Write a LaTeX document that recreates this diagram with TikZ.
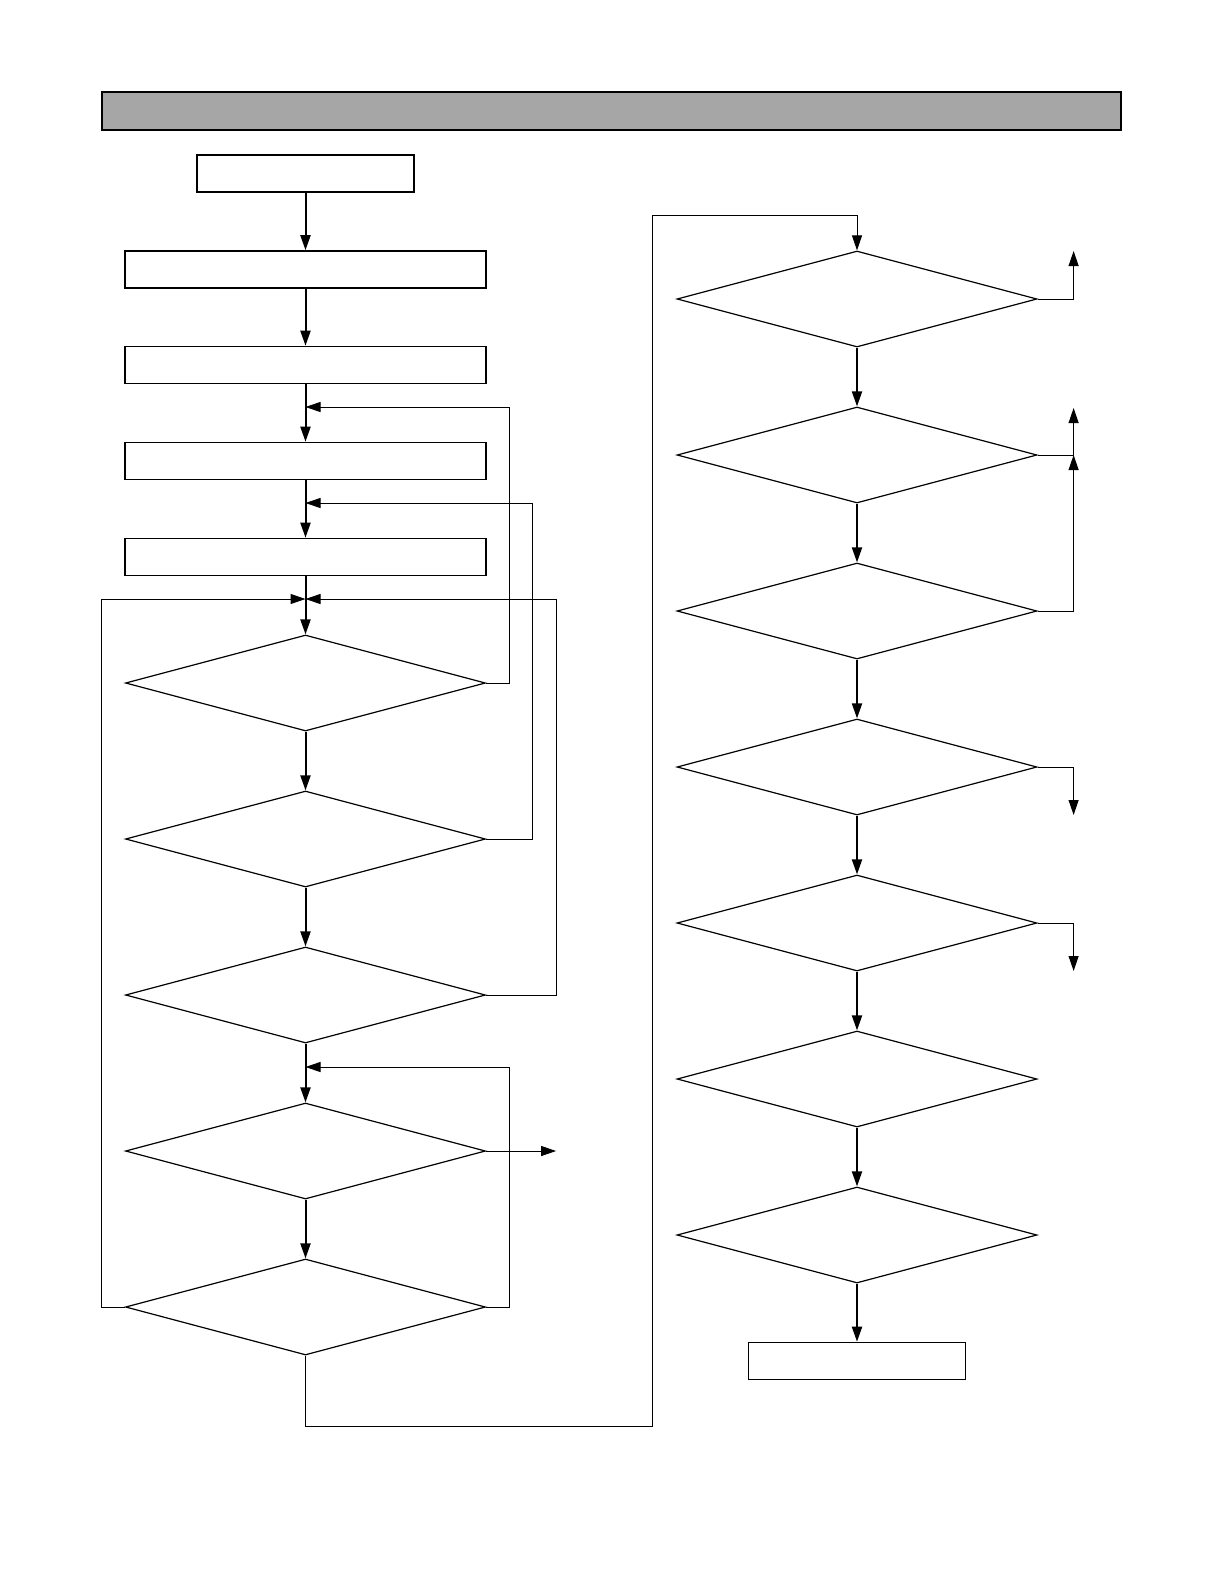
\documentclass[tikz,border=0pt]{standalone}
\usetikzlibrary{shapes.geometric,arrows.meta}

\tikzset{
  titlebar/.style={draw, line width=1pt, fill=black!35, minimum width=509.5pt, minimum height=19pt, inner sep=0pt},
  stepbox/.style={draw, line width=0.8pt, minimum width=180.5pt, minimum height=18.5pt, inner sep=0pt},
  shortbox/.style={stepbox, minimum width=108.5pt},
  decision/.style={draw, diamond, line width=0.6pt, minimum width=180pt, minimum height=48pt, inner sep=0pt},
  flow/.style={line width=1pt, -{Triangle[length=7.5pt,width=5pt]}},
  back/.style={line width=0.5pt, -{Triangle[length=7.5pt,width=5pt]}},
}

\begin{document}
\begin{tikzpicture}[x=0.5pt,y=-0.5pt,line join=miter]
    \useasboundingbox (0,0) rectangle (1224,1584);

    % titulní pruh
    \node[titlebar] (title) at (611.5,111) {};

    % levý sloupec: bloky
    \node[shortbox] (start) at (305.5,173.5) {};
    \node[stepbox] (s2) at (305.5,269.5) {};
    \node[stepbox] (s3) at (305.5,365) {};
    \node[stepbox] (s4) at (305.5,461) {};
    \node[stepbox] (s5) at (305.5,557) {};

    % levý sloupec: rozhodování
    \node[decision] (d1) at (305.5,683) {};
    \node[decision] (d2) at (305.5,839) {};
    \node[decision] (d3) at (305.5,995) {};
    \node[decision] (d4) at (305.5,1151) {};
    \node[decision] (d5) at (305.5,1307) {};

    % body, kde se zpětné větve napojují
    \coordinate (m1) at (305.5,407);
    \coordinate (m2) at (305.5,503);
    \coordinate (m3) at (305.5,599);
    \coordinate (m4) at (305.5,1067);

    % pravý sloupec
    \node[decision] (r1) at (857,299) {};
    \node[decision] (r2) at (857,455) {};
    \node[decision] (r3) at (857,611) {};
    \node[decision] (r4) at (857,767) {};
    \node[decision] (r5) at (857,923) {};
    \node[decision] (r6) at (857,1079) {};
    \node[decision] (r7) at (857,1235) {};
    \node[shortbox] (stop) at (857,1361) {};

    % hlavní tok vlevo
    \draw[flow] (start) -- (s2);
    \draw[flow] (s2) -- (s3);
    \draw[flow] (s3) -- (s4);
    \draw[flow] (s4) -- (s5);
    \draw[flow] (s5) -- (d1);
    \draw[flow] (d1) -- (d2);
    \draw[flow] (d2) -- (d3);
    \draw[flow] (d3) -- (d4);
    \draw[flow] (d4) -- (d5);

    % zpětné větve
    \draw[back] (d1.east) -- ++(23,0) |- (m1);
    \draw[back] (d2.east) -- ++(46,0) |- (m2);
    \draw[back] (d3.east) -- ++(70,0) |- (m3);
    \draw[back] (d5.west) -- ++(-23,0) |- (m3);
    \draw[back] (d5.east) -- ++(23,0) |- (m4);
    \draw[back] (d4.east) -- ++(70,0);

    % přechod do pravého sloupce
    \coordinate (jump) at (652,215);
    \draw[back] (d5.south) -- ++(0,71) -| (jump) -| (r1.north);

    % hlavní tok vpravo
    \draw[flow] (r1) -- (r2);
    \draw[flow] (r2) -- (r3);
    \draw[flow] (r3) -- (r4);
    \draw[flow] (r4) -- (r5);
    \draw[flow] (r5) -- (r6);
    \draw[flow] (r6) -- (r7);
    \draw[flow] (r7) -- (stop);

    % výstupy vpravo
    \draw[back] (r1.east) -- ++(36,0) -- ++(0,-48);
    \draw[back] (r2.east) -- ++(36,0) coordinate (r2x) -- ++(0,-47);
    \draw[back] (r3.east) -- ++(36,0) coordinate (r3x) -- (r2x);
    \draw[back] (r4.east) -- ++(36,0) -- ++(0,48);
    \draw[back] (r5.east) -- ++(36,0) -- ++(0,48);
\end{tikzpicture}
\end{document}
